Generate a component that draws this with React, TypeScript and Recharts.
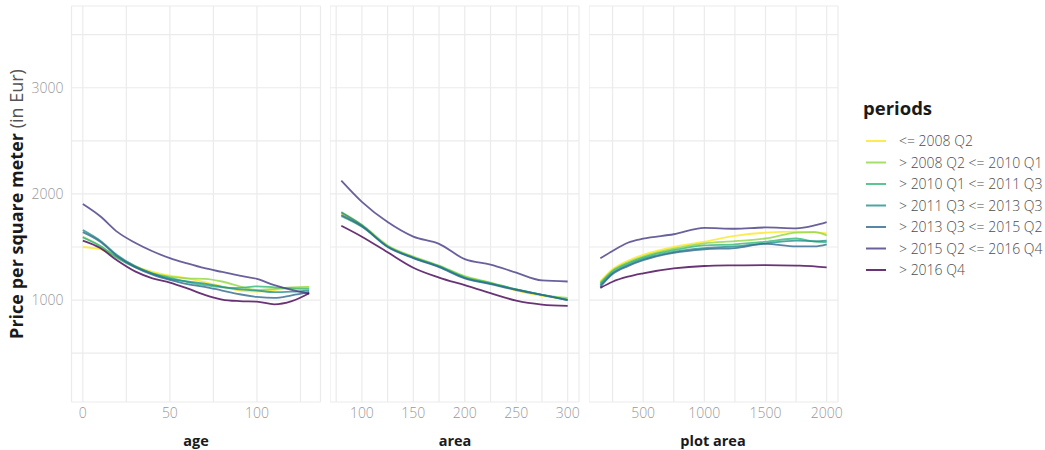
import React from 'react';
import { LineChart, Line, XAxis, YAxis, CartesianGrid } from 'recharts';

const PERIODS = [
  '<= 2008 Q2',
  '> 2008 Q2 <= 2010 Q1',
  '> 2010 Q1 <= 2011 Q3',
  '> 2011 Q3 <= 2013 Q3',
  '> 2013 Q3 <= 2015 Q2',
  '> 2015 Q2 <= 2016 Q4',
  '> 2016 Q4',
];
const COLORS = ['#FDE725', '#8FD744', '#35B779', '#21908C', '#31688E', '#443A83', '#440154'];

const AGE = [0, 10, 20, 30, 40, 50, 60, 70, 80, 90, 100, 110, 120, 130];
const AGE_PRICES = [
  [1500, 1480, 1400, 1320, 1265, 1230, 1205, 1170, 1130, 1090, 1080, 1095, 1110, 1120],
  [1595, 1510, 1400, 1315, 1255, 1220, 1205, 1200, 1175, 1130, 1095, 1105, 1120, 1125],
  [1590, 1510, 1395, 1310, 1250, 1210, 1170, 1140, 1120, 1115, 1130, 1120, 1110, 1105],
  [1660, 1560, 1420, 1320, 1250, 1200, 1175, 1155, 1125, 1100, 1090, 1075, 1080, 1090],
  [1640, 1550, 1410, 1310, 1240, 1190, 1150, 1125, 1090, 1055, 1030, 1020, 1045, 1075],
  [1905, 1790, 1640, 1540, 1460, 1395, 1345, 1300, 1265, 1230, 1200, 1140, 1095, 1060],
  [1560, 1490, 1370, 1270, 1205, 1165, 1110, 1050, 1005, 990, 985, 960, 990, 1065],
];

const AREA = [80, 100, 125, 150, 175, 200, 225, 250, 275, 300];
const AREA_PRICES = [
  [1815, 1700, 1510, 1405, 1320, 1220, 1160, 1090, 1040, 1010],
  [1830, 1710, 1515, 1410, 1325, 1225, 1165, 1100, 1050, 1020],
  [1790, 1690, 1505, 1400, 1320, 1215, 1160, 1100, 1050, 1005],
  [1825, 1705, 1505, 1400, 1315, 1210, 1155, 1100, 1050, 1000],
  [1800, 1695, 1500, 1395, 1310, 1205, 1150, 1095, 1048, 1000],
  [2125, 1925, 1735, 1598, 1530, 1385, 1335, 1258, 1185, 1175],
  [1700, 1597, 1450, 1305, 1212, 1140, 1065, 995, 958, 945],
];

const PLOT = [150, 250, 375, 500, 750, 1000, 1250, 1500, 1750, 1900, 2000];
const PLOT_PRICES = [
  [1175, 1290, 1370, 1425, 1500, 1550, 1605, 1635, 1645, 1640, 1628],
  [1165, 1280, 1355, 1410, 1485, 1535, 1555, 1580, 1635, 1640, 1610],
  [1155, 1270, 1345, 1400, 1470, 1515, 1525, 1550, 1580, 1550, 1545],
  [1140, 1255, 1330, 1385, 1455, 1490, 1505, 1535, 1560, 1555, 1560],
  [1125, 1245, 1320, 1375, 1445, 1478, 1490, 1530, 1505, 1505, 1525],
  [1393, 1463, 1540, 1578, 1620, 1680, 1672, 1684, 1676, 1703, 1735],
  [1115, 1173, 1220, 1252, 1298, 1321, 1327, 1330, 1325, 1318, 1308],
];

const Y_TICKS = [500, 1000, 1500, 2000, 2500, 3000, 3500];
const Y_LABELS = [1000, 2000, 3000];

const FONT = '"Open Sans", sans-serif';
const PANEL_W = 249;
const RIGHT_PAD = 24;
const PLOT_TOP = 6;
const PLOT_H = 396;
const Y_DOMAIN = [40, 3770];
const TICK_STYLE = { fill: '#999', fontSize: 14, fontFamily: FONT, fontWeight: 300 };

const toRows = (xs: number[], prices: number[][]) =>
  xs.map((x, i) => {
    const row: Record<string, number> = { x };
    prices.forEach((p, s) => (row['s' + s] = p[i]));
    return row;
  });

interface PanelProps {
  left: number;
  xs: number[];
  prices: number[][];
  domain: [number, number];
  ticks: number[];
  labels: number[];
  showY?: boolean;
}

const Panel: React.FC<PanelProps> = ({ left, xs, prices, domain, ticks, labels, showY }) => {
  const data = toRows(xs, prices);
  const yw = showY ? left : 0;
  return (
    <div style={{ position: 'absolute', left: showY ? 0 : left, top: 0 }}>
      <LineChart
        width={PANEL_W + yw + RIGHT_PAD}
        height={PLOT_TOP + PLOT_H + 22}
        data={data}
        margin={{ top: PLOT_TOP, right: RIGHT_PAD, bottom: 0, left: 0 }}
      >
        <CartesianGrid stroke="#ebebeb" strokeWidth={1.2} />
        <XAxis
          dataKey="x"
          type="number"
          domain={domain}
          ticks={ticks}
          allowDataOverflow
          tickFormatter={(v: number) => (labels.includes(v) ? String(v) : '')}
          tickLine={false}
          axisLine={false}
          tickSize={0}
          tickMargin={6}
          height={22}
          tick={TICK_STYLE}
        />
        <YAxis
          type="number"
          domain={Y_DOMAIN}
          ticks={Y_TICKS}
          allowDataOverflow
          hide={!showY}
          width={yw}
          tickFormatter={(v: number) => (Y_LABELS.includes(v) ? String(v) : '')}
          tickLine={false}
          axisLine={false}
          tickSize={0}
          tickMargin={8}
          tick={TICK_STYLE}
        />
        {prices.map((_, s) => (
          <Line
            key={s}
            dataKey={'s' + s}
            type="monotone"
            stroke={COLORS[s]}
            strokeOpacity={0.8}
            strokeWidth={1.8}
            dot={false}
            isAnimationActive={false}
          />
        ))}
      </LineChart>
    </div>
  );
};

export default function App() {
  return (
    <div
      style={{
        position: 'absolute',
        left: 0,
        top: 0,
        width: 1045,
        height: 450,
        background: '#fff',
        fontFamily: FONT,
      }}
    >
      <Panel
        left={71.5}
        xs={AGE}
        prices={AGE_PRICES}
        domain={[-6.5, 136.5]}
        ticks={[0, 25, 50, 75, 100, 125]}
        labels={[0, 50, 100]}
        showY
      />
      <Panel
        left={330}
        xs={AREA}
        prices={AREA_PRICES}
        domain={[69, 311]}
        ticks={[75, 100, 125, 150, 175, 200, 225, 250, 275, 300]}
        labels={[100, 150, 200, 250, 300]}
      />
      <Panel
        left={588.5}
        xs={PLOT}
        prices={PLOT_PRICES}
        domain={[57.5, 2092.5]}
        ticks={[250, 500, 750, 1000, 1250, 1500, 1750, 2000]}
        labels={[500, 1000, 1500, 2000]}
      />
      <svg
        width={1045}
        height={450}
        style={{ position: 'absolute', left: 0, top: 0, pointerEvents: 'none' }}
        fontFamily={FONT}
      >
        <text
          transform="translate(23,204) rotate(-90)"
          textAnchor="middle"
          fontSize={18}
          fill="#1a1a1a"
        >
          <tspan fontWeight={700}>Price per square meter</tspan>
          <tspan fontWeight={400} fill="#555"> (in Eur)</tspan>
        </text>
        <text x={196} y={446} textAnchor="middle" fontSize={14.5} fontWeight={700} fill="#1a1a1a">
          age
        </text>
        <text x={455} y={446} textAnchor="middle" fontSize={14.5} fontWeight={700} fill="#1a1a1a">
          area
        </text>
        <text x={713} y={446} textAnchor="middle" fontSize={14.5} fontWeight={700} fill="#1a1a1a">
          plot area
        </text>
        <text x={863} y={115} fontSize={18.5} fontWeight={700} fill="#1a1a1a">
          periods
        </text>
        {PERIODS.map((p, i) => {
          const cy = 141 + i * 21.5;
          return (
            <g key={p}>
              <line x1={866} x2={886} y1={cy} y2={cy} stroke={COLORS[i]} strokeOpacity={0.8} strokeWidth={2} />
              <text x={899} y={cy + 5} fontSize={14} fontWeight={300} fill="#4d4d4d">
                {p}
              </text>
            </g>
          );
        })}
      </svg>
    </div>
  );
}
